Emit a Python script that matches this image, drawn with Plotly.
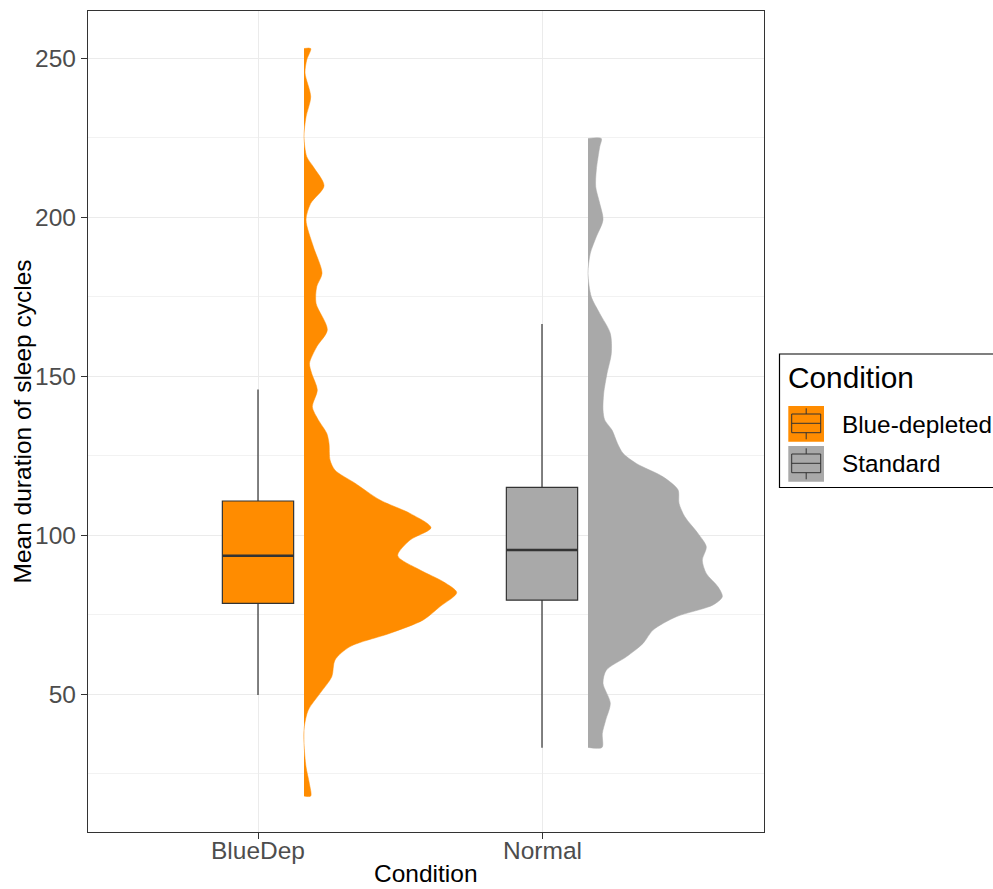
import plotly.graph_objects as go

# ---------------- data ----------------
categories = ["BlueDep", "Normal"]
legend_labels = ["Blue-depleted", "Standard"]
colors = ["#FF8C00", "#A9A9A9"]

# boxplot statistics
q1 = [78.5, 79.5]
median = [93.5, 95.3]
q3 = [110.7, 115.0]
lower_whisker = [49.7, 33.1]
upper_whisker = [145.8, 166.4]

# half-violin outline: y values and relative half-widths (density, arbitrary units)
bluedep_violin_y = [17.9, 21.9, 27.1, 34.5, 39.7, 45.0, 50.2, 55.4, 60.7, 64.9, 69.1, 73.3,
                    77.5, 81.9, 85.3, 89.0, 93.5, 98.4, 102.3, 106.8, 111.0, 116.3, 120.4,
                    123.6, 128.8, 132.0, 136.2, 140.3, 145.6, 150.8, 154.0, 159.2, 164.5,
                    172.9, 178.1, 182.3, 190.7, 199.1, 204.3, 209.8, 215.8, 219.0, 225.3,
                    231.5, 237.8, 245.3, 249.4, 253.0]
bluedep_violin_d = [6.7, 5.3, 2.0, 0.0, 0.3, 4.3, 16.0, 27.7, 31.0, 46.0, 86.0, 119.3,
                    136.0, 152.7, 139.3, 116.0, 93.7, 106.0, 127.0, 106.0, 76.0, 51.0, 31.0,
                    26.0, 25.0, 22.7, 14.3, 8.3, 13.3, 7.7, 5.5, 12.7, 23.3,
                    12.0, 12.7, 18.0, 9.3, 2.0, 6.7, 20.0, 9.3, 2.7, 0.0,
                    2.0, 6.7, 1.0, 2.7, 6.7]

normal_violin_y = [33.2, 37.6, 41.8, 47.1, 53.4, 57.5, 61.7, 65.9, 70.1, 74.3, 78.0, 80.6,
                   83.7, 87.9, 92.1, 96.3, 100.5, 105.8, 110.0, 114.2, 118.3, 122.5, 125.7,
                   128.8, 133.0, 136.2, 139.3, 144.6, 150.8, 157.1, 163.4, 169.7, 174.9,
                   182.3, 188.6, 193.8, 199.1, 204.3, 209.5, 214.8, 222.1, 224.7]
normal_violin_d = [14.0, 14.3, 17.7, 22.3, 15.0, 18.3, 38.3, 55.0, 65.0, 88.3, 125.0, 134.3,
                   130.0, 118.3, 114.3, 118.3, 110.0, 96.7, 91.0, 90.0, 75.0, 48.3, 35.0,
                   29.5, 24.0, 16.7, 15.0, 15.7, 19.0, 23.3, 22.3, 11.7, 3.3,
                   0.0, 2.3, 8.3, 15.0, 11.7, 7.7, 8.3, 11.7, 13.3]

y_ticks = [50, 100, 150, 200, 250]

# ---------------- styling / geometry ----------------
W, H = 993, 889
ML, MR, MT, MB = 88, 229, 11, 57
PW, PH = W - ML - MR, H - MT - MB
X_RANGE = [0.4014, 2.7817]
Y_RANGE = [6.6, 264.8]
VIOLIN_OFFSET = 0.162
VIOLIN_SCALE = 1.0 / 284.0
BOX_WIDTH = 0.251
LINE_COL = "#333333"
FONT = "Liberation Sans, Arial, sans-serif"
AXIS_FS = 24.5


def px2x(px):
    return (px - ML) / PW


def px2y(py):
    return (H - MB - py) / PH


fig = go.Figure()

violins = [(bluedep_violin_y, bluedep_violin_d), (normal_violin_y, normal_violin_d)]
for i, (vy, vd) in enumerate(violins):
    pos = i + 1
    base = pos + VIOLIN_OFFSET
    xs = [base] + [base + d * VIOLIN_SCALE for d in vd] + [base]
    ys = [vy[0]] + list(vy) + [vy[-1]]
    fig.add_trace(go.Scatter(
        x=xs, y=ys, mode="lines", fill="toself", fillcolor=colors[i],
        line=dict(color=colors[i], width=0.5, shape="spline", smoothing=0.8),
        hoverinfo="skip", showlegend=False))

for i in range(len(categories)):
    pos = i + 1
    fig.add_trace(go.Box(
        x=[pos], q1=[q1[i]], median=[median[i]], q3=[q3[i]],
        lowerfence=[lower_whisker[i]], upperfence=[upper_whisker[i]],
        width=BOX_WIDTH, fillcolor=colors[i], boxpoints=False,
        line=dict(color=LINE_COL, width=1.2), whiskerwidth=0,
        name=legend_labels[i], showlegend=False))
    # thicker median line as in ggplot
    fig.add_shape(type="line", xref="x", yref="y",
                  x0=pos - BOX_WIDTH / 2, x1=pos + BOX_WIDTH / 2,
                  y0=median[i], y1=median[i],
                  line=dict(color=LINE_COL, width=2.6))

# ---------------- manual legend (ggplot style) ----------------
shapes = []
annotations = []
shapes.append(dict(type="rect", xref="paper", yref="paper",
                   x0=px2x(779.5), x1=px2x(1010), y0=px2y(354), y1=px2y(487.5),
                   line=dict(color="#000000", width=1.2), fillcolor="rgba(0,0,0,0)"))
annotations.append(dict(text="Condition", xref="paper", yref="paper",
                        x=px2x(785.5), y=px2y(377.5), xanchor="left", yanchor="middle",
                        showarrow=False, font=dict(size=29.8, color="#000000", family=FONT)))
for i, lab in enumerate(legend_labels):
    top = 406 + 40 * i
    shapes.append(dict(type="rect", xref="paper", yref="paper",
                       x0=px2x(788.3), x1=px2x(824), y0=px2y(top), y1=px2y(top + 35.7),
                       line=dict(width=0), fillcolor=colors[i]))
    shapes.append(dict(type="rect", xref="paper", yref="paper",
                       x0=px2x(791.7), x1=px2x(820.7), y0=px2y(top + 8), y1=px2y(top + 26.7),
                       line=dict(color=LINE_COL, width=1), fillcolor="rgba(0,0,0,0)"))
    shapes.append(dict(type="line", xref="paper", yref="paper",
                       x0=px2x(791.7), x1=px2x(820.7), y0=px2y(top + 17.3), y1=px2y(top + 17.3),
                       line=dict(color=LINE_COL, width=1)))
    shapes.append(dict(type="line", xref="paper", yref="paper",
                       x0=px2x(806.2), x1=px2x(806.2), y0=px2y(top + 2.3), y1=px2y(top + 8),
                       line=dict(color=LINE_COL, width=1)))
    shapes.append(dict(type="line", xref="paper", yref="paper",
                       x0=px2x(806.2), x1=px2x(806.2), y0=px2y(top + 26.7), y1=px2y(top + 33.3),
                       line=dict(color=LINE_COL, width=1)))
    annotations.append(dict(text=lab, xref="paper", yref="paper",
                            x=px2x(839.5), y=px2y(top + 18), xanchor="left", yanchor="middle",
                            showarrow=False, font=dict(size=24.3, color="#000000", family=FONT)))

# x tick labels (placed as annotations at the category positions)
for i, cat in enumerate(categories):
    annotations.append(dict(text=cat, xref="x", yref="paper",
                            x=i + 1, y=px2y(850), xanchor="center", yanchor="middle",
                            showarrow=False,
                            font=dict(size=AXIS_FS, color="#4D4D4D", family=FONT)))

# axis titles
annotations.append(dict(text="Condition", xref="paper", yref="paper",
                        x=0.5, y=px2y(888.5), xanchor="center", yanchor="bottom",
                        showarrow=False, font=dict(size=AXIS_FS, color="#000000", family=FONT)))
annotations.append(dict(text="Mean duration of sleep cycles", xref="paper", yref="paper",
                        x=px2x(22), y=0.5, xanchor="center", yanchor="middle", textangle=-90,
                        showarrow=False, font=dict(size=AXIS_FS, color="#000000", family=FONT)))

for s in shapes:
    fig.add_shape(**s)

fig.update_layout(
    width=W, height=H,
    margin=dict(l=ML, r=MR, t=MT, b=MB, pad=0),
    paper_bgcolor="white", plot_bgcolor="white",
    showlegend=False,
    font=dict(family=FONT, color="#4D4D4D"),
    annotations=annotations,
)
fig.update_xaxes(
    range=X_RANGE, tickmode="array", tickvals=[1, 2], ticktext=categories,
    showticklabels=False,
    showgrid=True, gridcolor="#EBEBEB", gridwidth=1.2, zeroline=False,
    showline=True, mirror=True, linecolor=LINE_COL, linewidth=1.2,
    ticks="outside", ticklen=6, tickcolor=LINE_COL, tickwidth=1.2,
)
fig.update_yaxes(
    range=Y_RANGE, tickmode="array", tickvals=y_ticks,
    showgrid=True, gridcolor="#EBEBEB", gridwidth=1.2, zeroline=False,
    showline=True, mirror=True, linecolor=LINE_COL, linewidth=1.2,
    ticks="outside", ticklen=6, tickcolor=LINE_COL, tickwidth=1.2,
    tickfont=dict(size=AXIS_FS, color="#4D4D4D", family=FONT),
    minor=dict(tickmode="array", tickvals=[25, 75, 125, 175, 225], showgrid=True,
               gridcolor="#F2F2F2", gridwidth=0.8, ticks=""),
)

fig.write_html("out.html")
